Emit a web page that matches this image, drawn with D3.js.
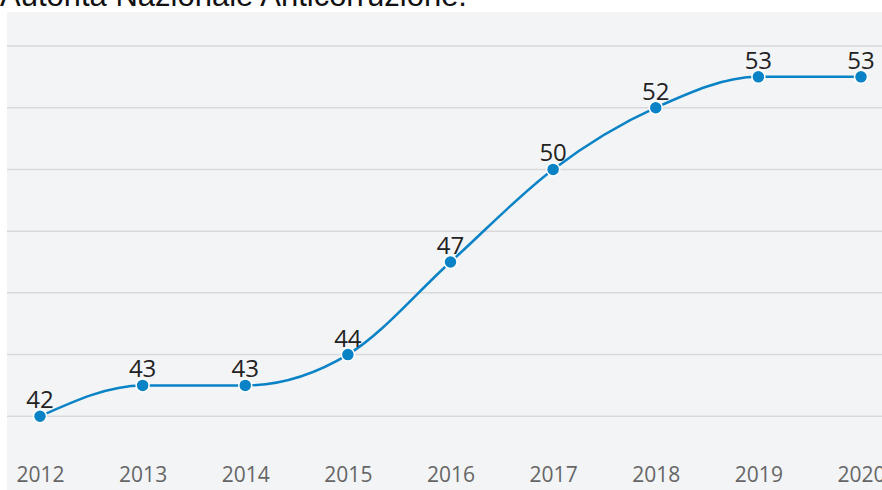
<!DOCTYPE html>
<html>
<head>
<meta charset="utf-8">
<script src="https://cdn.jsdelivr.net/npm/d3@7"></script>
<style>
  html, body { margin: 0; padding: 0; background: #fff; overflow: hidden; }
  #container { width: 882px; height: 490px; position: relative; }
</style>
</head>
<body>
<div id="container"></div>
<script>
const years = [2012, 2013, 2014, 2015, 2016, 2017, 2018, 2019, 2020];
const scores = [42, 43, 43, 44, 47, 50, 52, 53, 53];
const gridValues = [42, 44, 46, 48, 50, 52, 54];
const titleText = "Autorità Nazionale Anticorruzione.";

const width = 882, height = 490;

const svg = d3.select("#container")
  .append("svg")
  .attr("width", width)
  .attr("height", height);

// source line, cut off at the top like in the original
svg.append("text")
  .attr("x", 0)
  .attr("y", 6)
  .style("font-family", "'Liberation Sans', sans-serif")
  .style("font-size", "31px")
  .style("fill", "#111")
  .text(titleText);

// panel background
svg.append("rect")
  .attr("x", 7)
  .attr("y", 12)
  .attr("width", width - 7)
  .attr("height", height - 12)
  .attr("fill", "#f3f4f6");

const x = d3.scalePoint()
  .domain(years)
  .range([40, 861]);

const y = d3.scaleLinear()
  .domain([40, 54])
  .range([478, 46]);

svg.append("g")
  .selectAll("line")
  .data(gridValues)
  .join("line")
  .attr("x1", 7)
  .attr("x2", width)
  .attr("y1", d => y(d))
  .attr("y2", d => y(d))
  .attr("stroke", "#d9d9db")
  .attr("stroke-width", 1.5);

// x axis labels
const xAxis = svg.append("g")
  .attr("transform", "translate(0,482)")
  .call(d3.axisBottom(x).tickSize(0).tickPadding(0));
xAxis.select(".domain").remove();
xAxis.selectAll("text")
  .attr("dy", "0")
  .style("font-family", "'Open Sans', sans-serif")
  .style("font-size", "21px")
  .style("fill", "#666");

const data = years.map((yr, i) => ({year: yr, value: scores[i]}));

const line = d3.line()
  .x(d => x(d.year))
  .y(d => y(d.value))
  .curve(d3.curveMonotoneX);

svg.append("path")
  .datum(data)
  .attr("fill", "none")
  .attr("stroke", "#0a83c6")
  .attr("stroke-width", 2.5)
  .attr("d", line);

svg.append("g")
  .selectAll("circle")
  .data(data)
  .join("circle")
  .attr("cx", d => x(d.year))
  .attr("cy", d => y(d.value))
  .attr("r", 6.5)
  .attr("fill", "#0a83c6")
  .attr("stroke", "#fff")
  .attr("stroke-width", 1.5);

svg.append("g")
  .selectAll("text")
  .data(data)
  .join("text")
  .attr("x", d => x(d.year))
  .attr("y", d => y(d.value) - 8)
  .attr("text-anchor", "middle")
  .style("font-family", "'Open Sans', sans-serif")
  .style("font-size", "24px")
  .style("fill", "#222")
  .text(d => d.value);
</script>
</body>
</html>
